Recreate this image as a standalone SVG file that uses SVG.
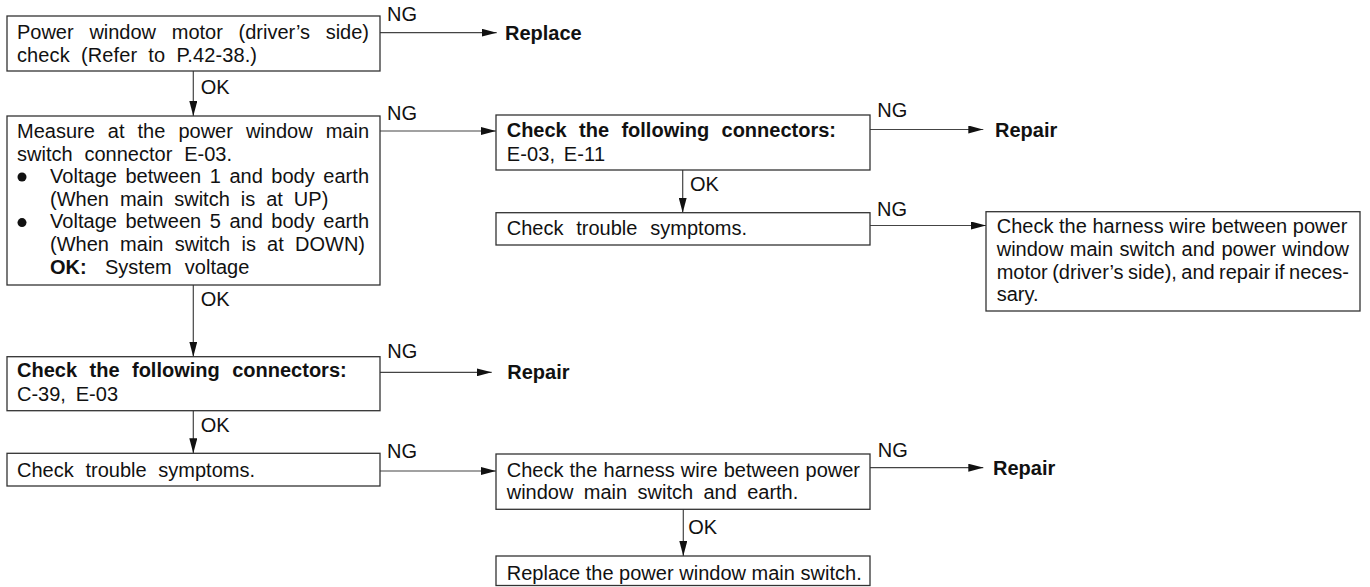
<svg xmlns="http://www.w3.org/2000/svg" width="1370" height="587" viewBox="0 0 1370 587">
<style>
.bg{fill:#fff}
.box{fill:#fff;stroke:#333;stroke-width:1.3}
.ln{fill:none;stroke:#444;stroke-width:1.2}
.t{font-family:"Liberation Sans",Arial,sans-serif;font-size:20px;fill:#111}
.b{font-weight:bold}
.bul{fill:#111}
</style>
<defs>
<marker id="ah" markerUnits="userSpaceOnUse" viewBox="0 0 15 8" refX="15" refY="4" markerWidth="15" markerHeight="8" orient="auto">
<path d="M0,0 L15,4 L0,8 Z" fill="#111"/>
</marker>
</defs>
<rect class="bg" x="0" y="0" width="1370" height="587"/>

<g id="connectors">
<line class="ln" x1="380" y1="32.7" x2="496.7" y2="32.7" marker-end="url(#ah)"/>
<text class="t" x="387" y="20.5">NG</text>
<line class="ln" x1="193.3" y1="71" x2="193.3" y2="116" marker-end="url(#ah)"/>
<text class="t" x="200.7" y="94">OK</text>
<line class="ln" x1="380" y1="131" x2="496" y2="131" marker-end="url(#ah)"/>
<text class="t" x="387" y="120">NG</text>
<line class="ln" x1="870" y1="129.5" x2="983.3" y2="129.5" marker-end="url(#ah)"/>
<text class="t" x="877.3" y="116.7">NG</text>
<line class="ln" x1="682.7" y1="170" x2="682.7" y2="212.7" marker-end="url(#ah)"/>
<text class="t" x="690" y="190.7">OK</text>
<line class="ln" x1="870" y1="225.5" x2="986" y2="225.5" marker-end="url(#ah)"/>
<text class="t" x="877" y="216">NG</text>
<line class="ln" x1="193.3" y1="285" x2="193.3" y2="356.7" marker-end="url(#ah)"/>
<text class="t" x="200.7" y="306">OK</text>
<line class="ln" x1="380" y1="372.3" x2="491.7" y2="372.3" marker-end="url(#ah)"/>
<text class="t" x="387.3" y="358.3">NG</text>
<line class="ln" x1="193.3" y1="410.7" x2="193.3" y2="453.3" marker-end="url(#ah)"/>
<text class="t" x="200.7" y="431.7">OK</text>
<line class="ln" x1="380" y1="471" x2="496" y2="471" marker-end="url(#ah)"/>
<text class="t" x="387" y="458.3">NG</text>
<line class="ln" x1="870" y1="467.7" x2="983.3" y2="467.7" marker-end="url(#ah)"/>
<text class="t" x="877.7" y="456.7">NG</text>
<line class="ln" x1="683.3" y1="509.3" x2="683.3" y2="556" marker-end="url(#ah)"/>
<text class="t" x="688.3" y="534">OK</text>
</g>

<g id="n-motor-check">
<rect class="box" x="7" y="16" width="373" height="55"/>
<text class="t" x="17" y="39" textLength="352" lengthAdjust="spacing" style="word-spacing:10.2px">Power window motor (driver’s side)</text>
<text class="t" x="17" y="62" textLength="240" lengthAdjust="spacing" style="word-spacing:5.5px">check (Refer to P.42-38.)</text>
</g>

<g id="n-replace1">
<text class="t b" x="505" y="40">Replace</text>
</g>

<g id="n-measure">
<rect class="box" x="7" y="116" width="373" height="169"/>
<text class="t" x="17" y="138" textLength="352" lengthAdjust="spacing" style="word-spacing:7.5px">Measure at the power window main</text>
<text class="t" x="17" y="160.6" textLength="215" lengthAdjust="spacing" style="word-spacing:6.3px">switch connector E-03.</text>
<circle class="bul" cx="22" cy="177" r="4.5"/>
<text class="t" x="50" y="183.2" textLength="319" lengthAdjust="spacing" style="word-spacing:2.9px">Voltage between 1 and body earth</text>
<text class="t" x="50" y="205.8" textLength="278.3" lengthAdjust="spacing" style="word-spacing:5.4px">(When main switch is at UP)</text>
<circle class="bul" cx="22" cy="222.6" r="4.5"/>
<text class="t" x="50" y="228.4" textLength="319" lengthAdjust="spacing" style="word-spacing:2.9px">Voltage between 5 and body earth</text>
<text class="t" x="50" y="251" textLength="315" lengthAdjust="spacing" style="word-spacing:5.7px">(When main switch is at DOWN)</text>
<text class="t b" x="50" y="273.6">OK:</text>
<text class="t" x="105" y="273.6" textLength="144.3" lengthAdjust="spacing" style="word-spacing:7.6px">System voltage</text>
</g>

<g id="n-connectors-e03-e11">
<rect class="box" x="496" y="115" width="374" height="55"/>
<text class="t b" x="506.7" y="137.3" textLength="329.3" lengthAdjust="spacing" style="word-spacing:6.8px">Check the following connectors:</text>
<text class="t" x="506.7" y="160.7" textLength="98.3" lengthAdjust="spacing" style="word-spacing:2.7px">E-03, E-11</text>
</g>

<g id="n-repair1">
<text class="t b" x="995" y="136.5">Repair</text>
</g>

<g id="n-symptoms1">
<rect class="box" x="496" y="212.7" width="374" height="32.3"/>
<text class="t" x="506.7" y="235" textLength="240.3" lengthAdjust="spacing" style="word-spacing:7.3px">Check trouble symptoms.</text>
</g>

<g id="n-harness-motor">
<rect class="box" x="986" y="211.7" width="374" height="99.3"/>
<text class="t" x="996.7" y="233.3" textLength="350.6" lengthAdjust="spacing">Check the harness wire between power</text>
<text class="t" x="996.7" y="256" textLength="352.3" lengthAdjust="spacing" style="word-spacing:0.9px">window main switch and power window</text>
<text class="t" x="996.7" y="278.6" textLength="352.3" lengthAdjust="spacing" style="word-spacing:-1.1px">motor (driver’s side), and repair if neces-</text>
<text class="t" x="996.7" y="301">sary.</text>
</g>

<g id="n-connectors-c39-e03">
<rect class="box" x="7" y="356.7" width="373" height="54"/>
<text class="t b" x="17" y="377.3" textLength="329.7" lengthAdjust="spacing" style="word-spacing:6.9px">Check the following connectors:</text>
<text class="t" x="17" y="400.7" textLength="101" lengthAdjust="spacing" style="word-spacing:4.3px">C-39, E-03</text>
</g>

<g id="n-repair2">
<text class="t b" x="507.3" y="379.3">Repair</text>
</g>

<g id="n-symptoms2">
<rect class="box" x="7" y="453.3" width="373" height="32.7"/>
<text class="t" x="17" y="477.3" textLength="238" lengthAdjust="spacing" style="word-spacing:6.2px">Check trouble symptoms.</text>
</g>

<g id="n-harness-earth">
<rect class="box" x="496" y="454" width="374" height="55.3"/>
<text class="t" x="506.7" y="476.7" textLength="353.3" lengthAdjust="spacing" style="word-spacing:0.6px">Check the harness wire between power</text>
<text class="t" x="506.7" y="499.3" textLength="291.6" lengthAdjust="spacing" style="word-spacing:4.8px">window main switch and earth.</text>
</g>

<g id="n-repair3">
<text class="t b" x="993" y="475">Repair</text>
</g>

<g id="n-replace-switch">
<rect class="box" x="496" y="556" width="374" height="29.5"/>
<text class="t" x="506.7" y="580" textLength="355" lengthAdjust="spacing">Replace the power window main switch.</text>
</g>
</svg>
